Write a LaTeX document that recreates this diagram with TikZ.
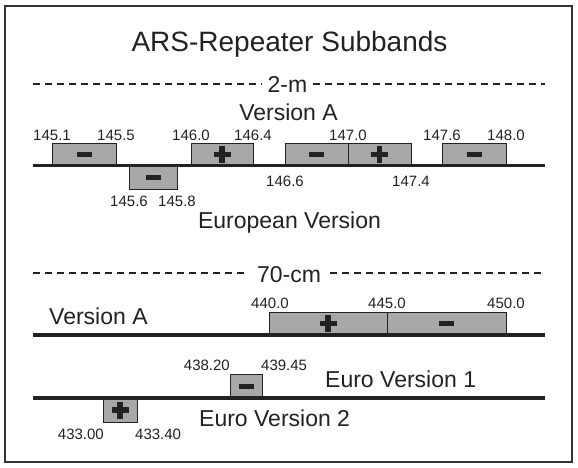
\documentclass[tikz,border=0pt]{standalone}
\usepackage{fontspec}
\setmainfont{Liberation Sans}
\usepackage{xcolor}
\usepackage{tikz}
\definecolor{bandgray}{HTML}{A8A8A8}
\definecolor{inkgray}{HTML}{222222}
\tikzset{
  band/.style={draw=inkgray, fill=bandgray, line width=0.9pt},
  minusband/.style={band, path picture={\fill[inkgray] ([xshift=-7.5pt,yshift=-2.5pt]path picture bounding box.center) rectangle ++(15pt,5pt);}},
  plusband/.style={band, path picture={
      \fill[inkgray] ([xshift=-8.5pt,yshift=-2.75pt]path picture bounding box.center) rectangle ++(17pt,5.5pt);
      \fill[inkgray] ([xshift=-2.75pt,yshift=-8.5pt]path picture bounding box.center) rectangle ++(5.5pt,17pt);}},
  bandline/.style={line width=3.5pt, draw=inkgray},
  dashline/.style={line width=1.3pt, draw=inkgray, dash pattern=on 7pt off 5pt},
  freq/.style={font=\fontsize{15}{17}\selectfont, text=inkgray, inner sep=0pt, anchor=base},
  caption/.style={font=\fontsize{23}{27}\selectfont, text=inkgray, inner sep=0pt, anchor=base}
}

\begin{document}
\begin{tikzpicture}[x=1pt, y=-1pt]
\useasboundingbox (0,0) rectangle (578,467);
\draw[line width=2pt, draw=black!80] (5,6) rectangle (572,462);

\node[caption, font=\fontsize{28}{32}\selectfont] (title) at (289.5,51) {ARS-Repeater Subbands};

% 2-m
\node[caption, inner xsep=5pt, inner ysep=0pt] (twom) at (287.5,92) {2-m};
\coordinate (twoml) at (33,84);
\coordinate (twomr) at (545,84);
\draw[dashline] (twoml) -- (twoml -| twom.west);
\draw[dashline] (twom.east |- twomr) -- (twomr);
\node[caption] (twomA) at (288.5,120) {Version A};

\path[minusband] (52,143) rectangle (116,165.5);
\path[plusband] (191,143) rectangle (253,165.5);
\path[minusband] (285,143) rectangle (348,165.5);
\path[plusband] (348,143) rectangle (411,165.5);
\path[minusband] (442,143) rectangle (506,165.5);
\path[minusband] (129,165.5) rectangle (177,189);
\coordinate (twomlinel) at (33,165.5);
\coordinate (twomliner) at (545,165.5);
\draw[bandline] (twomlinel) -- (twomliner);

\node[freq] (f1451) at (52,140) {145.1};
\node[freq] (f1455) at (116,140) {145.5};
\node[freq] (f1460) at (191,140) {146.0};
\node[freq] (f1464) at (253,140) {146.4};
\node[freq] (f1470) at (348,140) {147.0};
\node[freq] (f1476) at (442,140) {147.6};
\node[freq] (f1480) at (506,140) {148.0};
\node[freq] (f1466) at (285,186.7) {146.6};
\node[freq] (f1474) at (411,186.7) {147.4};
\node[freq] (f1456) at (129,206.7) {145.6};
\node[freq] (f1458) at (177,206.7) {145.8};
\node[caption] (twomEU) at (289.5,228.3) {European Version};

% 70-cm
\node[caption, inner xsep=9pt, inner ysep=0pt] (seventy) at (289,282) {70-cm};
\coordinate (seventyl) at (33,273);
\coordinate (seventyr) at (545,273);
\draw[dashline] (seventyl) -- (seventyl -| seventy.west);
\draw[dashline] (seventy.east |- seventyr) -- (seventyr);

\node[caption, anchor=base west] (seventyA) at (49,324) {Version A};
\path[plusband] (269,312) rectangle (387,335);
\path[minusband] (387,312) rectangle (506,335);
\coordinate (alinel) at (33,335);
\coordinate (aliner) at (545,335);
\draw[bandline] (alinel) -- (aliner);
\node[freq] (f4400) at (270,308) {440.0};
\node[freq] (f4450) at (387,308) {445.0};
\node[freq] (f4500) at (506,308) {450.0};

\path[minusband] (230,374) rectangle (262,398);
\path[plusband] (103,398) rectangle (137,422);
\coordinate (eulinel) at (33,398);
\coordinate (euliner) at (545,398);
\draw[bandline] (eulinel) -- (euliner);
\node[freq, anchor=base east] (f43820) at (230,370) {438.20};
\node[freq, anchor=base west] (f43945) at (261,370) {439.45};
\node[caption, anchor=base west] (euone) at (325,387) {Euro Version 1};
\node[caption, anchor=base west] (eutwo) at (199,426) {Euro Version 2};
\node[freq, anchor=base east] (f43300) at (104,439) {433.00};
\node[freq, anchor=base west] (f43340) at (135,439) {433.40};
\end{tikzpicture}
\end{document}
